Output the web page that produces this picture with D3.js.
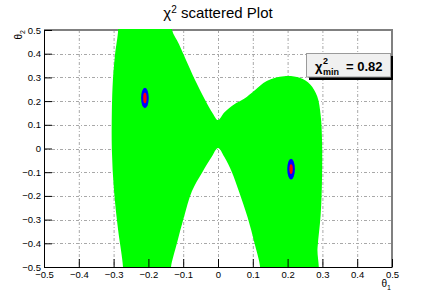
<!DOCTYPE html>
<html>
<head>
<meta charset="utf-8">
<script src="https://cdn.jsdelivr.net/npm/d3@7.9.0/dist/d3.min.js"></script>
<style>
  body { margin: 0; background: #fff; }
  svg { font-family: "Liberation Sans", Arial, sans-serif; }
</style>
</head>
<body>
<svg id="chart" width="436" height="297"></svg>
<script>
// allowed region (green), boundary, theta1 / theta2
// (points beyond +-0.5 are cut off by the frame)
const regionX = [-0.289, -0.130,
  -0.132, -0.112, -0.092, -0.066, -0.037, -0.015, 0.000,
  0.018, 0.045, 0.075, 0.105, 0.140, 0.190, 0.235, 0.265, 0.285, 0.295, 0.299, 0.299, 0.295, 0.286, 0.281,
  0.120,
  0.121, 0.105, 0.085, 0.060, 0.040, 0.018, 0.000,
  -0.018, -0.045, -0.075, -0.098, -0.118, -0.135, -0.136,
  -0.274,
  -0.273, -0.287, -0.299, -0.305, -0.305, -0.302, -0.296, -0.287];
const regionY = [0.550, 0.550,
  0.500, 0.440, 0.373, 0.289, 0.205, 0.148, 0.120,
  0.152, 0.185, 0.210, 0.245, 0.285, 0.305, 0.298, 0.270, 0.220, 0.140, 0.030, -0.120, -0.280, -0.420, -0.550,
  -0.550,
  -0.500, -0.400, -0.290, -0.180, -0.100, -0.035, 0.002,
  -0.035, -0.100, -0.180, -0.290, -0.400, -0.500, -0.550,
  -0.550,
  -0.500, -0.344, -0.175, -0.006, 0.162, 0.289, 0.395, 0.500];

// best-fit islands: centre and half-widths (blue = 1 sigma, red = core)
const minima = ['left', 'right'];
const minX = [-0.210, 0.210];
const minY = [0.213, -0.087];
const blueRx = [0.011, 0.011];
const blueRy = [0.043, 0.044];
const redRx = [0.005, 0.005];
const redRy = [0.022, 0.021];

const majorTicks = [-0.5, -0.4, -0.3, -0.2, -0.1, 0, 0.1, 0.2, 0.3, 0.4, 0.5];
const chiMin = '0.82';

const svg = d3.select('#chart');
const margin = { left: 44, right: 44, top: 30, bottom: 30 };
const W = 436, H = 297;

const x = d3.scaleLinear().domain([-0.5, 0.5]).range([margin.left, W - margin.right]);
const y = d3.scaleLinear().domain([-0.5, 0.5]).range([H - margin.bottom, margin.top]);

svg.append('defs').append('clipPath').attr('id', 'clip')
  .append('rect')
  .attr('x', x(-0.5)).attr('y', y(0.5) - 1)
  .attr('width', x(0.5) - x(-0.5)).attr('height', y(-0.5) - y(0.5) + 1);

// grid
const grid = svg.append('g').attr('stroke', '#a8a8a8').attr('stroke-width', 1)
  .attr('stroke-dasharray', '3,2,1,2');
majorTicks.slice(1, -1).forEach(t => {
  grid.append('line').attr('x1', x(t) + 0.5).attr('x2', x(t) + 0.5)
    .attr('y1', y(0.5)).attr('y2', y(-0.5));
  grid.append('line').attr('y1', Math.round(y(t)) + 0.5).attr('y2', Math.round(y(t)) + 0.5)
    .attr('x1', x(-0.5)).attr('x2', x(0.5));
});

// frame (top / right grey)
svg.append('path')
  .attr('d', `M${x(-0.5)},${y(0.5)}H${x(0.5)}V${y(-0.5)}`)
  .attr('fill', 'none').attr('stroke', '#808080').attr('stroke-width', 2);

// green region
const pts = regionX.map((d, i) => [d, regionY[i]]);
const area = d3.line().x(d => x(d[0])).y(d => y(d[1])).curve(d3.curveCatmullRomClosed.alpha(0.5));
const plot = svg.append('g').attr('clip-path', 'url(#clip)');
plot.append('path').attr('d', area(pts)).attr('fill', '#00ff00');

// minima
minima.forEach((m, i) => {
  plot.append('ellipse')
    .attr('cx', x(minX[i])).attr('cy', y(minY[i]))
    .attr('rx', x(blueRx[i]) - x(0)).attr('ry', y(0) - y(blueRy[i]))
    .attr('fill', '#0000ff');
  plot.append('ellipse')
    .attr('cx', x(minX[i])).attr('cy', y(minY[i]))
    .attr('rx', x(redRx[i]) - x(0)).attr('ry', y(0) - y(redRy[i]))
    .attr('fill', '#ff0000');
});

// axes
const minorTicks = d3.range(-50, 51, 2).map(d => d / 100);
const fmt = d => d === 0 ? '0' : d3.format('.1f')(d);

const xAxis = svg.append('g').attr('transform', `translate(0,${y(-0.5)})`);
xAxis.call(d3.axisBottom(x).tickValues(minorTicks).tickSize(-4).tickFormat(''));
xAxis.call(d3.axisBottom(x).tickValues(majorTicks).tickSizeInner(-8).tickSizeOuter(0)
  .tickPadding(4).tickFormat(fmt));

const yAxis = svg.append('g').attr('transform', `translate(${x(-0.5)},0)`);
yAxis.call(d3.axisLeft(y).tickValues(minorTicks).tickSize(-4).tickFormat(''));
yAxis.call(d3.axisLeft(y).tickValues(majorTicks).tickSizeInner(-8).tickSizeOuter(0)
  .tickPadding(3).tickFormat(fmt));

svg.selectAll('.domain').attr('stroke', '#000');
svg.selectAll('.tick line').attr('stroke', '#000');
svg.selectAll('.tick text').attr('font-size', 9.5)
  .attr('font-family', '"Liberation Sans", Arial, sans-serif').attr('fill', '#000');

// axis titles
const t1 = svg.append('text').attr('x', 391).attr('y', 287)
  .attr('text-anchor', 'end').attr('font-size', 10);
t1.append('tspan').text('θ');
t1.append('tspan').attr('dy', 3).attr('font-size', 7).text('1');

const t2 = svg.append('text').attr('transform', 'translate(22,30) rotate(-90)')
  .attr('text-anchor', 'end').attr('font-size', 10);
t2.append('tspan').text('θ');
t2.append('tspan').attr('dy', 3).attr('font-size', 7).text('2');

// title
const title = svg.append('text').attr('x', 218).attr('y', 18)
  .attr('text-anchor', 'middle').attr('font-size', 15);
title.append('tspan').text('χ');
title.append('tspan').attr('dy', -5).attr('font-size', 10).text('2');
title.append('tspan').attr('dy', 5).text(' scattered Plot');

// chi2 min box
const box = svg.append('g');
box.append('rect').attr('x', 309).attr('y', 56).attr('width', 84).attr('height', 24).attr('fill', '#000');
box.append('rect').attr('x', 306.5).attr('y', 53.5).attr('width', 84).attr('height', 23.5)
  .attr('fill', '#f0f0f0').attr('stroke', '#9a9a9a');
const lbl = box.append('text').attr('x', 315).attr('y', 71)
  .attr('font-size', 13).attr('font-weight', 'bold');
lbl.append('tspan').text('χ');
lbl.append('tspan').attr('x', 323).attr('y', 64).attr('font-size', 9).text('2');
lbl.append('tspan').attr('x', 323).attr('y', 75).attr('font-size', 9).text('min');
lbl.append('tspan').attr('x', 346).attr('y', 71).text('=  ' + chiMin);
</script>
</body>
</html>
